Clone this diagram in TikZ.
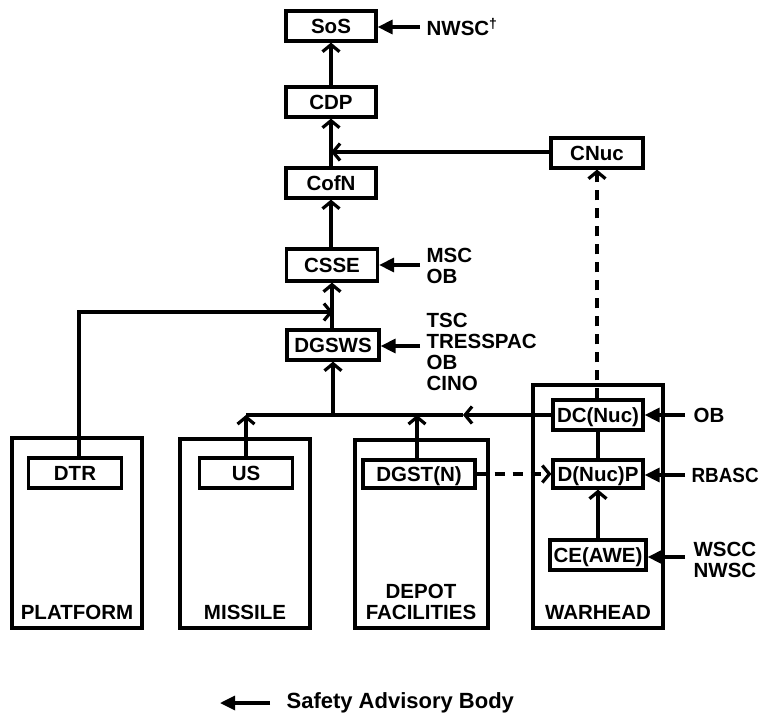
\documentclass[tikz,border=0pt]{standalone}
\usepackage{fontspec}
\usepackage{graphicx}
\setmainfont{Liberation Sans}
\usetikzlibrary{arrows.meta}
\begin{document}
\begin{tikzpicture}[x=1pt,y=-1pt, line width=3.2pt,
  txt/.style={font=\fontsize{20.5}{21}\selectfont\bfseries, inner sep=0pt},
  box/.style={txt, draw, minimum height=30pt, text height=14.5pt, text depth=0pt},
  cont/.style={draw},
  up/.style={-{Straight Barb[length=7pt,width=17pt]}},
  adv/.style={-{Triangle[length=15pt,width=14pt]}},
  dashline/.style={dash pattern=on 10pt off 8pt}]
\fill[white] (0,0) rectangle (763,716);
\useasboundingbox (0,0) rectangle (763,716);

% containers
\draw[cont] (12,438) rectangle (142,628);
\draw[cont] (180,439) rectangle (310,628);
\draw[cont] (355,440) rectangle (488,628);
\draw[cont] (533,385) rectangle (663,628);
\node[txt, anchor=south] (platform) at (77,621) {PLATFORM};
\node[txt, anchor=south] (missile) at (245,621) {MISSILE};
\node[txt, anchor=south, align=center] (depot) at (421,621) {DEPOT\\FACILITIES};
\node[txt, anchor=south] (warhead) at (598,621) {WARHEAD};

% boxes
\node[box, minimum width=90pt] (SoS) at (331,26) {SoS};
\node[box, minimum width=90pt] (CDP) at (331,102) {CDP};
\node[box, minimum width=90pt] (CofN) at (331,183) {CofN};
\node[box, minimum width=91pt, minimum height=32pt] (CSSE) at (332,265) {CSSE};
\node[box, minimum width=92pt] (DGSWS) at (333,345) {DGSWS};
\node[box, minimum width=92pt] (CNuc) at (597,153) {CNuc};
\node[box, minimum width=93pt] (DTR) at (75,473) {DTR};
\node[box, minimum width=93pt] (US) at (246,473) {US};
\node[box, minimum width=112pt, minimum height=28pt] (DGST) at (419,474) {DGST(N)};
\node[box, minimum width=90pt] (DC) at (598,415) {DC(Nuc)};
\node[box, minimum width=90pt, minimum height=28pt] (DNP) at (598,474) {D(Nuc)P};
\node[box, minimum width=96pt] (CE) at (598,555) {CE(AWE)};

% advisory labels
\node[txt, anchor=west] (nwsc) at (425,27) {NWSC\textsuperscript{\fontsize{14}{14}\selectfont\dag}};
\node[txt, anchor=west, align=left] (msc) at (425,265.5) {MSC\\OB};
\node[txt, anchor=west, align=left] (tsc) at (425,352) {TSC\\TRESSPAC\\OB\\CINO};
\node[txt, anchor=west] (ob2) at (692,415) {OB};
\node[txt, anchor=west] (rbasc) at (690,475) {\scalebox{0.92}[1]{RBASC}};
\node[txt, anchor=west, align=left] (wscc) at (692,560) {WSCC\\NWSC};

% main chain
\draw[up] (CDP) -- (SoS);
\draw[up] (CofN) -- (CDP);
\draw[up] (CSSE.north -| CofN.south) -- (CofN);
\draw[up] (DGSWS.north -| CSSE.south) -- (CSSE.south);

% CNuc to chain
\coordinate (cnucend) at (CDP.south |- CNuc.west);
\draw[up] (CNuc.west |- 0,152) -- (cnucend |- 0,152);

% DTR to chain
\coordinate (dtrtop) at (79,312);
\coordinate (dtrend) at (333,312);
\draw[up] (DTR.north -| dtrtop) -- (dtrtop) -- (dtrend);

% bus
\coordinate (busmid) at (463,415);
\coordinate (buswest) at (246,415);
\coordinate (busctr) at (333,415);
\draw[up] (DC.west) -- (busmid);
\draw (busmid) -- (buswest);
\draw[up] (US.north -| buswest) -- (buswest);
\draw[up] (DGST.north -| 417,0) -- (417,415);
\draw[up] (busctr) -- (DGSWS.south);

% warhead internal
\draw (DC) -- (DNP);
\draw[up] (CE) -- (DNP);
\draw[up, dashline] (DC.north -| 597,0) -- (CNuc.south);
\draw[up, dashline] (DGST.east) -- (DNP.west);

% advisory arrows
\coordinate (a1) at (420,27);
\coordinate (a2) at (420,265);
\coordinate (a3) at (420,346);
\coordinate (a4) at (685,415);
\coordinate (a5) at (685,475);
\coordinate (a6) at (685,557);
\draw[adv] (a1) -- (SoS.east |- a1);
\draw[adv] (a2) -- (CSSE.east |- a2);
\draw[adv] (a3) -- (DGSWS.east |- a3);
\draw[adv] (a4) -- (DC.east |- a4);
\draw[adv] (a5) -- (DNP.east |- a5);
\draw[adv] (a6) -- (CE.east |- a6);

% legend
\coordinate (lg) at (270,703);
\node[txt, anchor=west, font=\fontsize{22}{22}\selectfont\bfseries] (legend) at (285,703) {Safety Advisory Body};
\draw[adv] (lg) -- (220,703);
\end{tikzpicture}
\end{document}
